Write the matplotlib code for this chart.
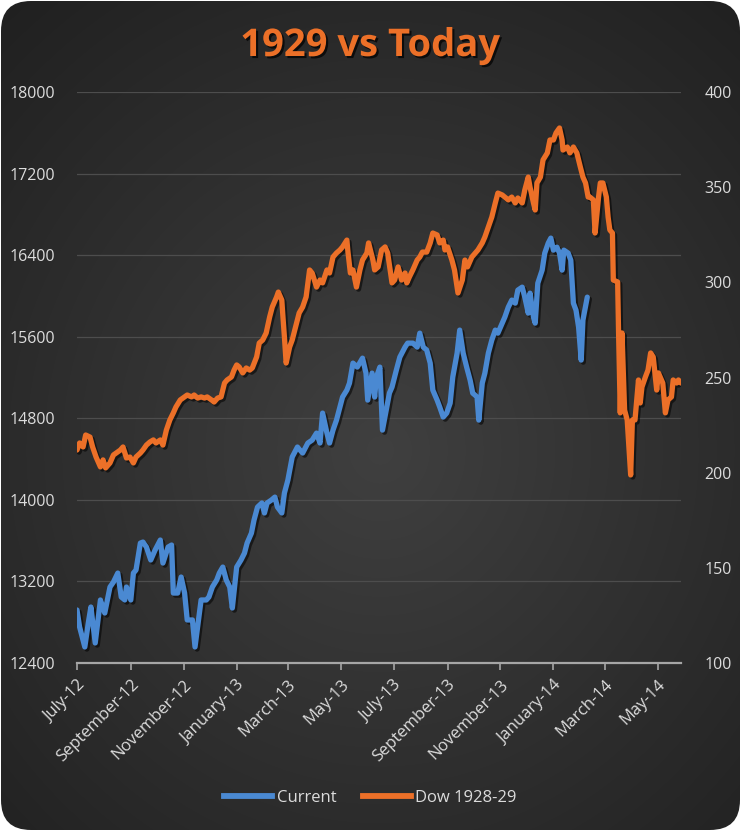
import numpy as np
import pandas as pd
import matplotlib
matplotlib.use('Agg')
import matplotlib.pyplot as plt
from matplotlib.patches import FancyBboxPatch
import matplotlib.patheffects as pe
from matplotlib.lines import Line2D

# ---------------- data ----------------
start_date = '2012-07-01'
axis_end_days = 696

current_days = [0, 3, 9, 13, 16, 21, 27, 32, 38, 42, 47, 51, 55, 57, 62, 65, 68, 73, 76, 80,
                85, 90, 96, 99, 105, 109, 111, 116, 120, 124, 127, 133, 136, 139, 143, 149, 152, 156, 161, 164,
                168, 172, 176, 179, 184, 189, 193, 196, 201, 204, 208, 213, 216, 219, 224, 228, 231, 236, 239, 243,
                248, 254, 260, 266, 271, 276, 280, 283, 288, 291, 295, 299, 303, 306, 311, 314, 318, 323, 329, 333,
                335, 340, 343, 345, 349, 352, 357, 360, 363, 368, 372, 378, 381, 387, 392, 395, 399, 403, 407, 410,
                415, 418, 422, 426, 430, 433, 438, 441, 445, 449, 453, 456, 461, 463, 467, 470, 474, 478, 482, 485,
                490, 493, 497, 501, 505, 508, 513, 516, 520, 522, 526, 528, 531, 536, 539, 543, 546, 549, 553, 556,
                559, 561, 566, 569, 572, 575, 578, 581, 583, 588]
current_values = [12920, 12753, 12557, 12792, 12949, 12596, 13018, 12890, 13145, 13194, 13282, 13047, 13018, 13145, 13018, 13282, 13312, 13576, 13586, 13537,
                  13410, 13508, 13606, 13380, 13537, 13557, 13086, 13086, 13243, 13086, 12822, 12822, 12557, 12753, 13018, 13018, 13047, 13145, 13214, 13282,
                  13341, 13214, 13145, 12939, 13341, 13410, 13478, 13576, 13674, 13802, 13929, 13969, 13871, 13969, 13998, 14027, 13929, 13871, 14067, 14194,
                  14420, 14518, 14459, 14557, 14586, 14655, 14557, 14851, 14655, 14557, 14684, 14782, 14910, 15008, 15077, 15145, 15341, 15302, 15390, 15243,
                  14978, 15243, 15008, 15204, 15302, 14684, 14910, 15047, 15106, 15273, 15400, 15498, 15537, 15537, 15498, 15635, 15498, 15469, 15341, 15077,
                  14978, 14910, 14812, 14851, 14949, 15204, 15439, 15665, 15439, 15302, 15174, 15047, 15008, 14782, 15145, 15243, 15439, 15567, 15665, 15635,
                  15733, 15792, 15890, 15959, 15929, 16057, 16086, 15988, 15831, 16027, 15792, 15733, 16125, 16253, 16420, 16518, 16567, 16449, 16478, 16420,
                  16253, 16449, 16420, 16351, 15929, 15861, 15694, 15371, 15763, 15988]

dow_days = [0, 3, 7, 10, 15, 18, 22, 27, 30, 33, 38, 42, 45, 50, 53, 57, 61, 65, 68, 73,
            76, 80, 84, 88, 91, 96, 99, 103, 107, 111, 114, 119, 124, 127, 132, 135, 139, 143, 147, 150,
            155, 158, 162, 166, 170, 173, 178, 181, 184, 187, 191, 195, 199, 202, 207, 210, 214, 218, 222, 225,
            230, 232, 236, 237, 239, 241, 245, 248, 253, 256, 260, 264, 268, 271, 276, 280, 283, 288, 291, 295,
            299, 303, 306, 311, 312, 315, 318, 322, 326, 329, 334, 336, 341, 343, 347, 351, 355, 358, 363, 366,
            370, 374, 378, 380, 383, 387, 392, 395, 398, 403, 407, 410, 415, 418, 422, 424, 427, 432, 435, 439,
            444, 447, 450, 455, 459, 462, 467, 470, 474, 478, 482, 485, 490, 493, 497, 501, 505, 508, 513, 516,
            520, 522, 526, 528, 530, 534, 537, 542, 545, 549, 552, 556, 559, 560, 565, 568, 572, 576, 580, 583,
            586, 589, 591, 595, 597, 601, 603, 606, 610, 612, 614, 617, 618, 623, 624, 626, 628, 631, 634, 638,
            640, 643, 647, 649, 651, 655, 658, 661, 664, 668, 670, 675, 678, 681, 685, 687, 691, 693, 696]
dow_values = [211.9, 215.6, 213.5, 219.8, 218.7, 213.5, 208.2, 203.0, 206.7, 202.5, 205.1, 209.3, 210.3, 211.9, 213.5, 207.7, 208.2, 205.1, 208.2, 210.3,
              211.9, 214.5, 216.1, 217.2, 215.6, 217.2, 214.5, 222.4, 227.7, 231.4, 234.5, 238.2, 239.8, 240.8, 239.8, 240.8, 239.2, 239.8, 239.2, 239.8,
              238.2, 237.1, 239.2, 239.8, 247.1, 248.7, 250.3, 253.9, 256.6, 255.5, 252.4, 255.0, 253.9, 255.0, 260.8, 268.1, 269.7, 273.4, 281.8, 287.0,
              292.3, 294.9, 290.7, 283.9, 271.3, 257.6, 266.0, 269.7, 278.6, 283.9, 287.0, 292.3, 306.5, 304.9, 297.5, 301.2, 299.7, 306.5, 304.9, 313.3,
              315.4, 317.0, 318.6, 322.2, 317.0, 304.9, 306.5, 297.5, 306.5, 311.7, 315.4, 320.7, 311.7, 306.5, 308.1, 317.0, 318.6, 315.4, 299.7, 301.2,
              308.1, 301.2, 304.9, 299.7, 302.8, 306.5, 311.7, 313.3, 315.9, 315.9, 320.7, 325.9, 324.9, 320.7, 322.2, 317.0, 318.6, 311.7, 306.5, 294.4,
              301.2, 311.7, 308.1, 313.3, 315.4, 317.0, 320.7, 323.8, 329.1, 334.3, 341.7, 346.9, 345.9, 344.8, 343.3, 344.8, 341.7, 344.3, 341.7, 348.5,
              355.3, 350.1, 341.7, 338.0, 352.2, 355.3, 364.3, 368.0, 374.8, 374.8, 378.5, 381.1, 374.8, 369.5, 371.1, 368.0, 371.1, 368.0, 360.6, 355.3,
              352.2, 344.8, 344.8, 343.3, 325.9, 344.8, 352.2, 352.2, 344.8, 334.3, 327.5, 325.9, 301.2, 300.2, 275.0, 231.4, 273.4, 232.9, 227.7, 198.8,
              227.7, 227.7, 248.7, 236.6, 245.0, 250.3, 253.9, 262.9, 260.8, 243.4, 252.4, 247.1, 231.4, 238.2, 239.8, 248.7, 247.1, 248.7, 247.1]

left_ticks = [12400, 13200, 14000, 14800, 15600, 16400, 17200, 18000]
right_ticks = [100, 150, 200, 250, 300, 350, 400]
month_ticks = ['2012-07-01', '2012-09-01', '2012-11-01', '2013-01-01', '2013-03-01', '2013-05-01',
               '2013-07-01', '2013-09-01', '2013-11-01', '2014-01-01', '2014-03-01', '2014-05-01']
month_labels = ['July-12', 'September-12', 'November-12', 'January-13', 'March-13', 'May-13',
                'July-13', 'September-13', 'November-13', 'January-14', 'March-14', 'May-14']
series_names = ['Current', 'Dow 1928-29']

# ---------------- style ----------------
BLUE = '#4A89D2'
ORANGE = '#EC7028'
TXT = '#DCDCDC'
FONT = ['Open Sans', 'DejaVu Sans']

W, H = 741, 831
fig = plt.figure(figsize=(W / 100, H / 100), dpi=100)
fig.patch.set_facecolor('white')

# background with radial gradient and rounded corners
bg = fig.add_axes([0, 0, 1, 1])
bg.set_axis_off()
bg.set_xlim(0, W)
bg.set_ylim(H, 0)
yy, xx = np.mgrid[0:H, 0:W]
r = np.hypot(xx - 380, (yy - 450) * 0.95)
t = np.clip(r / 640, 0, 1)
c = 0.25 - (0.25 - 0.11) * t
img = np.dstack([c, c, c])
im = bg.imshow(img, extent=(0, W, H, 0), zorder=0, interpolation='bilinear')
frame = FancyBboxPatch((1, 1), W - 2, H - 2, boxstyle='round,pad=0,rounding_size=30',
                       transform=bg.transData, facecolor='none', edgecolor='none')
bg.add_patch(frame)
im.set_clip_path(frame)

# main axes
ax = fig.add_axes([77 / W, 168 / H, 604 / W, 571 / H])
ax.patch.set_alpha(0)
ax2 = ax.twinx()
ax2.patch.set_alpha(0)

start = pd.Timestamp(start_date)
cur_x = start + pd.to_timedelta(current_days, unit='D')
dow_x = start + pd.to_timedelta(dow_days, unit='D')

LW = 3.8
shadow = [pe.SimpleLineShadow(offset=(1.5, -1.5), shadow_color='black', alpha=0.55), pe.Normal()]
l1, = ax.plot(cur_x, current_values, color=BLUE, lw=LW, solid_joinstyle='round',
              solid_capstyle='round', path_effects=shadow, zorder=3)
l2, = ax2.plot(dow_x, dow_values, color=ORANGE, lw=LW, solid_joinstyle='round',
               solid_capstyle='round', path_effects=shadow, zorder=3)

ax.set_xlim(start, start + pd.Timedelta(days=axis_end_days))
ax.set_ylim(left_ticks[0], left_ticks[-1])
ax2.set_ylim(right_ticks[0], right_ticks[-1])

ax.set_yticks(left_ticks)
ax.set_yticklabels([str(v) for v in left_ticks], fontsize=11.5, color=TXT, family=FONT)
ax2.set_yticks(right_ticks)
ax2.set_yticklabels([str(v) for v in right_ticks], fontsize=11.5, color=TXT, family=FONT)
ax.tick_params(axis='y', length=0, pad=16)
ax2.tick_params(axis='y', length=0, pad=17)

ax.set_xticks(pd.to_datetime(month_ticks))
ax.set_xticklabels(month_labels, rotation=45, ha='right', va='top', rotation_mode='anchor',
                   fontsize=12, color=TXT, family=FONT)
ax.tick_params(axis='x', direction='out', length=5, width=1.2, color='#A6A6A6', pad=5)

ax.grid(axis='y', color='#4D4D4D', lw=0.9)
ax.set_axisbelow(True)
for a in (ax, ax2):
    for s in ('top', 'left', 'right', 'bottom'):
        a.spines[s].set_visible(False)
ax.spines['bottom'].set_visible(True)
ax.spines['bottom'].set_color('#A6A6A6')
ax.spines['bottom'].set_linewidth(1.6)

# title
fig.text(0.5, 1 - 46 / H, '1929 vs Today', ha='center', va='center', color=ORANGE,
         fontsize=27.5, fontweight='bold', family=['Open Sans', 'DejaVu Sans'],
         path_effects=[pe.withSimplePatchShadow(offset=(1.5, -1.5), shadow_rgbFace='black', alpha=0.7)])

# legend
handles = [Line2D([], [], color=BLUE, lw=4.2), Line2D([], [], color=ORANGE, lw=4.2)]
leg = fig.legend(handles, series_names, loc='center', bbox_to_anchor=(0.5, 1 - 798 / H),
                 ncol=2, frameon=False, handlelength=2.9, columnspacing=1.6,
                 handletextpad=0.25, prop={'family': FONT, 'size': 12})
for txt in leg.get_texts():
    txt.set_color(TXT)

fig.savefig('out.png', dpi=100, facecolor=fig.get_facecolor())
